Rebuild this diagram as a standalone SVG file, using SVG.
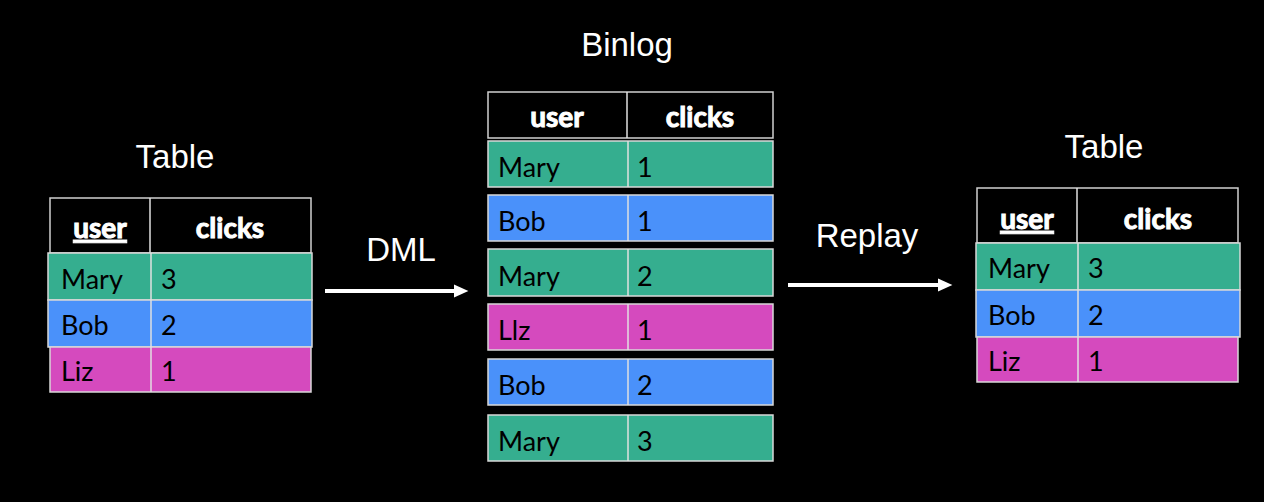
<svg xmlns="http://www.w3.org/2000/svg" width="1264" height="502" viewBox="0 0 1264 502">
<defs>
<style>
.title{font-family:"Liberation Sans",Arial,sans-serif;font-size:33px;fill:#fff;text-anchor:middle}
.hd{font-family:Lato,"Open Sans",sans-serif;font-weight:bold;font-size:28px;fill:#fff;stroke:#fff;stroke-width:1;text-anchor:middle}
.cell{font-family:Lato,"Open Sans",sans-serif;font-size:27px;fill:#000}
.hbox{fill:#000;stroke:#d0d0d0;stroke-width:1.5}
.g{fill:#35ae8f;stroke:#d8d8d8;stroke-width:1.5}
.b{fill:#4a91fa;stroke:#d8d8d8;stroke-width:1.5}
.m{fill:#d54abe;stroke:#d8d8d8;stroke-width:1.5}
.div{stroke:#e0e0e0;stroke-width:1.5}
.conn{stroke:#fff;stroke-width:4;fill:none}
</style>
<marker id="ah" markerWidth="4" markerHeight="4" refX="1" refY="2" orient="auto" markerUnits="strokeWidth" viewBox="0 0 4 4">
<path d="M0,0.4 L3.6,2 L0,3.6 Z" fill="#fff"/>
</marker>
</defs>
<rect width="1264" height="502" fill="#000"/>

<g id="left-table">
<text class="title" x="175" y="168">Table</text>
<rect class="hbox" x="50" y="198" width="261" height="55"/>
<line class="div" x1="150" y1="198" x2="150" y2="253"/>
<text class="hd" x="100" y="238" text-decoration="underline">user</text>
<text class="hd" x="230" y="238">clicks</text>
<rect class="g" x="48" y="253" width="264" height="47"/>
<rect class="b" x="48" y="300" width="264" height="47"/>
<rect class="m" x="50" y="347" width="261" height="45"/>
<line class="div" x1="151" y1="253" x2="151" y2="392"/>
<text class="cell" x="61" y="289">Mary</text><text class="cell" x="161" y="289">3</text>
<text class="cell" x="61" y="335">Bob</text><text class="cell" x="161" y="335">2</text>
<text class="cell" x="61" y="381">Liz</text><text class="cell" x="161" y="381">1</text>
</g>

<g id="binlog">
<text class="title" x="627" y="56">Binlog</text>
<rect class="hbox" x="488" y="92" width="285" height="46"/>
<line class="div" x1="627" y1="92" x2="627" y2="138"/>
<text class="hd" x="557" y="127">user</text>
<text class="hd" x="700" y="127">clicks</text>
<rect class="g" x="488" y="141" width="285" height="46"/>
<rect class="b" x="488" y="195" width="285" height="46"/>
<rect class="g" x="488" y="249" width="285" height="47"/>
<rect class="m" x="488" y="304" width="285" height="46"/>
<rect class="b" x="488" y="359" width="285" height="46"/>
<rect class="g" x="488" y="415" width="285" height="46"/>
<line class="div" x1="628" y1="141" x2="628" y2="187"/>
<line class="div" x1="628" y1="195" x2="628" y2="241"/>
<line class="div" x1="628" y1="249" x2="628" y2="296"/>
<line class="div" x1="628" y1="304" x2="628" y2="350"/>
<line class="div" x1="628" y1="359" x2="628" y2="405"/>
<line class="div" x1="628" y1="415" x2="628" y2="461"/>
<text class="cell" x="498" y="177">Mary</text><text class="cell" x="637" y="177">1</text>
<text class="cell" x="498" y="231">Bob</text><text class="cell" x="637" y="231">1</text>
<text class="cell" x="498" y="286">Mary</text><text class="cell" x="637" y="286">2</text>
<text class="cell" x="498" y="340">Llz</text><text class="cell" x="637" y="340">1</text>
<text class="cell" x="498" y="395">Bob</text><text class="cell" x="637" y="395">2</text>
<text class="cell" x="498" y="451">Mary</text><text class="cell" x="637" y="451">3</text>
</g>

<g id="right-table">
<text class="title" x="1104" y="158">Table</text>
<rect class="hbox" x="977" y="188" width="261" height="55"/>
<line class="div" x1="1077" y1="188" x2="1077" y2="243"/>
<text class="hd" x="1027" y="229" text-decoration="underline">user</text>
<text class="hd" x="1158" y="229">clicks</text>
<rect class="g" x="976" y="243" width="264" height="47"/>
<rect class="b" x="976" y="290" width="264" height="47"/>
<rect class="m" x="977" y="337" width="261" height="45"/>
<line class="div" x1="1078" y1="243" x2="1078" y2="382"/>
<text class="cell" x="988" y="278">Mary</text><text class="cell" x="1088" y="278">3</text>
<text class="cell" x="988" y="325">Bob</text><text class="cell" x="1088" y="325">2</text>
<text class="cell" x="988" y="371">Liz</text><text class="cell" x="1088" y="371">1</text>
</g>

<g id="connectors">
<line class="conn" x1="325" y1="291" x2="458" y2="291" marker-end="url(#ah)"/>
<text class="title" x="401" y="261">DML</text>
<line class="conn" x1="788" y1="285" x2="942" y2="285" marker-end="url(#ah)"/>
<text class="title" x="867" y="247">Replay</text>
</g>
</svg>
